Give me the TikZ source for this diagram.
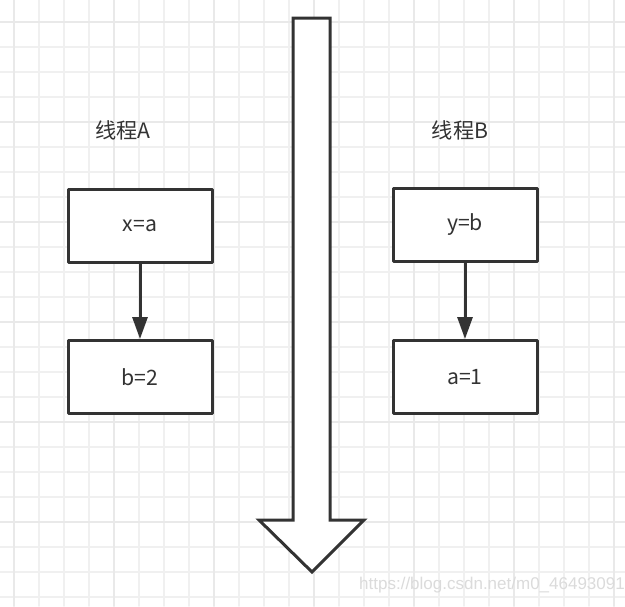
\documentclass[tikz,border=0pt]{standalone}
\usepackage{fontspec}
\setmainfont{Noto Sans CJK SC}
\newfontfamily\markfont{Liberation Sans}
\usetikzlibrary{arrows.meta}
\usetikzlibrary{positioning}

\definecolor{inkgray}{HTML}{333333}
\definecolor{gridgray}{HTML}{F0F0F0}
\definecolor{gridmajor}{HTML}{E9E9E9}

\tikzset{
  box/.style={draw=inkgray,line width=1.5pt,fill=white,minimum width=72pt,minimum height=36.5pt,text=inkgray,font=\fontsize{10.6pt}{12pt}\selectfont},
  title/.style={text=inkgray,font=\fontsize{10.6pt}{12pt}\selectfont},
  flow/.style={draw=inkgray,line width=1.5pt,-{Triangle[length=11pt,width=7.5pt]}},
}

\begin{document}
\begin{tikzpicture}[line cap=round,line join=round,x=0.5pt,y=-0.5pt]
\useasboundingbox (0,0) rectangle (625,606);
\fill[white] (0,0) rectangle (625,606);
% grid
\foreach \i in {14,39,...,614} \draw[gridgray,line width=0.8pt] (\i,0) -- (\i,606);
\foreach \j in {22,47,...,597} \draw[gridgray,line width=0.8pt] (0,\j) -- (625,\j);
\foreach \i in {14,114,...,614} \draw[gridmajor,line width=0.9pt] (\i,0) -- (\i,606);
\foreach \j in {22,122,...,522} \draw[gridmajor,line width=0.9pt] (0,\j) -- (625,\j);
% time arrow
\draw [draw=inkgray,fill=white,line width=1.5pt,line join=miter] (293,18) -- (330,18) -- (330,520) -- (364,520) -- (312,572) -- (259,520) -- (293,520) -- cycle;
% thread A
\node[title] (titleA) at (123,130) {线程A};
\node[box] (xa) at (140,226) {x=a};
\node[box] (b2) at (140,377) {b=2};
\draw[flow] (xa) -- (b2);
% thread B
\node[title] (titleB) at (460,130) {线程B};
\node[box] (yb) at (465,225) {y=b};
\node[box] (a1) at (465,377) {a=1};
\draw[flow] (yb) -- (a1);
% watermark
\node[text=gray!28,font=\markfont\fontsize{8.5pt}{10pt}\selectfont] (mark) at (492,585) {https://blog.csdn.net/m0\_46493091};
\end{tikzpicture}
\end{document}
